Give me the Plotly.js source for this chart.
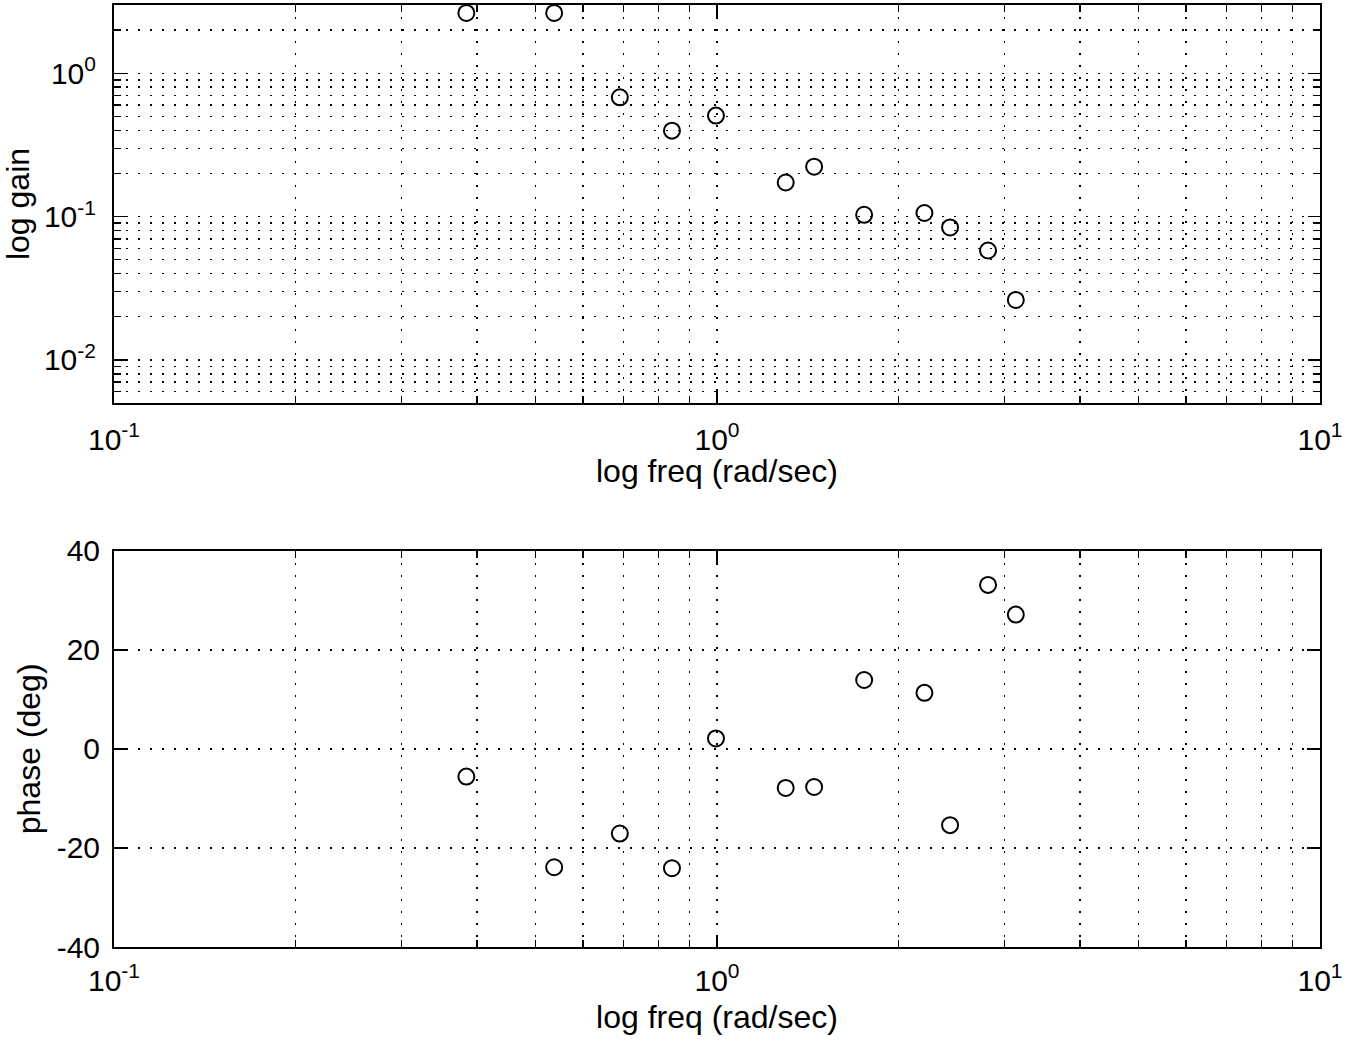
<!DOCTYPE html>
<html>
<head>
<meta charset="utf-8">
<script src="https://cdn.plot.ly/plotly-3.0.1.min.js"></script>
<style>
  html, body { margin: 0; padding: 0; background: #fff; }
  #plot { width: 1364px; height: 1042px; }
</style>
</head>
<body>
<div id="plot"></div>
<script>
// Measured frequency response: gain and phase at each test frequency
const freq = [0.384, 0.537, 0.690, 0.842, 0.996, 1.300, 1.449, 1.754, 2.208, 2.435, 2.815, 3.130];
const gain = [2.64, 2.64, 0.680, 0.398, 0.507, 0.173, 0.223, 0.103, 0.106, 0.084, 0.058, 0.0262];
const phaseDeg = [-5.6, -23.9, -17.1, -24.1, 2.1, -7.9, -7.7, 13.9, 11.3, -15.4, 33.1, 27.1];

// Tick labels
const freqTickVals = [0.1, 1, 10];
const freqTickText = ['10<sup>-1</sup>', '10<sup>0</sup>', '10<sup>1</sup>'];
const gainTickVals = [0.01, 0.1, 1];
const gainTickText = ['10<sup>-2</sup>', '10<sup>-1</sup>', '10<sup>0</sup>'];
const phaseTickVals = [-40, -20, 0, 20, 40];
const phaseTickText = ['-40', '-20', '0', '20', '40'];

const freqTitle = 'log freq (rad/sec)';
const gainTitle = 'log gain';
const phaseTitle = 'phase (deg)';

// Intermediate log positions (2..9 within each decade) for minor ticks and grid
function logMinors(lo, hi) {
  const out = [];
  for (let d = lo; d < hi; d++) {
    for (let k = 2; k <= 9; k++) out.push(k * Math.pow(10, d));
  }
  return out;
}
const freqMinor = logMinors(-1, 1);
const gainMinor = logMinors(-3, 1).filter(v => v >= 0.005 && v <= 3);

const FONT = 'Liberation Sans, Arial, Helvetica, sans-serif';
const GRID_DASH = '2px,10px';
const TICK_SIZE = 30;
const TITLE_SIZE = 32;

const marker = {
  symbol: 'circle-open', size: 16, color: '#000',
  line: { color: '#000', width: 2 }
};

const traces = [
  { x: freq, y: gain, xaxis: 'x', yaxis: 'y', type: 'scatter', mode: 'markers',
    marker: marker, cliponaxis: false, hoverinfo: 'x+y' },
  { x: freq, y: phaseDeg, xaxis: 'x2', yaxis: 'y2', type: 'scatter', mode: 'markers',
    marker: marker, cliponaxis: false, hoverinfo: 'x+y' }
];

function freqAxis(domainAnchor, standoffLabel) {
  return {
    type: 'log', range: [-1, 1], anchor: domainAnchor, domain: [0, 1],
    tickmode: 'array', tickvals: freqTickVals, ticktext: freqTickText,
    ticks: 'inside', ticklen: 12, tickwidth: 1.5, tickcolor: '#000',
    ticklabelstandoff: standoffLabel,
    showline: true, linewidth: 2, linecolor: '#000', mirror: 'ticks',
    showgrid: true, gridcolor: '#000', gridwidth: 1.5, griddash: GRID_DASH,
    zeroline: false,
    minor: {
      tickmode: 'array', tickvals: freqMinor, ticks: 'inside', ticklen: 7,
      tickwidth: 1.5, tickcolor: '#000',
      showgrid: true, gridcolor: '#000', gridwidth: 1.5, griddash: GRID_DASH
    },
    tickfont: { family: FONT, size: TICK_SIZE, color: '#000' },
    automargin: false
  };
}

const xTop = freqAxis('y', 9);
const xBottom = freqAxis('y2', 6);
xBottom.title = { text: freqTitle, standoff: 10,
                  font: { family: FONT, size: TITLE_SIZE, color: '#000' } };

const layout = {
  width: 1364, height: 1042,
  margin: { l: 114, r: 44, t: 5, b: 95 },
  paper_bgcolor: '#fff', plot_bgcolor: '#fff',
  showlegend: false,
  font: { family: FONT, color: '#000' },
  xaxis: xTop,
  yaxis: {
    type: 'log', domain: [0.5775, 1],
    range: [Math.log10(0.005), Math.log10(3)], anchor: 'x',
    tickmode: 'array', tickvals: gainTickVals, ticktext: gainTickText,
    ticks: 'inside', ticklen: 12, tickwidth: 1.5, tickcolor: '#000',
    ticklabelstandoff: 10,
    showline: true, linewidth: 2, linecolor: '#000', mirror: 'ticks',
    showgrid: true, gridcolor: '#000', gridwidth: 1.5, griddash: GRID_DASH,
    zeroline: false,
    minor: {
      tickmode: 'array', tickvals: gainMinor, ticks: 'inside', ticklen: 7,
      tickwidth: 1.5, tickcolor: '#000',
      showgrid: true, gridcolor: '#000', gridwidth: 1.5, griddash: GRID_DASH
    },
    tickfont: { family: FONT, size: TICK_SIZE, color: '#000' },
    title: { text: gainTitle, standoff: 12,
             font: { family: FONT, size: TITLE_SIZE, color: '#000' } }
  },
  xaxis2: xBottom,
  yaxis2: {
    domain: [0, 0.4207], range: [-40, 40], anchor: 'x2',
    tickmode: 'array', tickvals: phaseTickVals, ticktext: phaseTickText,
    ticks: 'inside', ticklen: 13, tickwidth: 1.5, tickcolor: '#000',
    ticklabelstandoff: 6,
    showline: true, linewidth: 2, linecolor: '#000', mirror: 'ticks',
    showgrid: true, gridcolor: '#000', gridwidth: 1.5, griddash: GRID_DASH,
    zeroline: false,
    tickfont: { family: FONT, size: TICK_SIZE, color: '#000' },
    title: { text: phaseTitle, standoff: 6,
             font: { family: FONT, size: TITLE_SIZE, color: '#000' } }
  },
  // Upper panel's frequency label sits close under its tick labels
  annotations: [{
    text: freqTitle, xref: 'x domain', yref: 'y domain', x: 0.5, y: 0,
    xanchor: 'center', yanchor: 'top', yshift: -48, showarrow: false,
    font: { family: FONT, size: TITLE_SIZE, color: '#000' }
  }]
};

Plotly.newPlot('plot', traces, layout, { displayModeBar: false, staticPlot: true });
</script>
</body>
</html>
